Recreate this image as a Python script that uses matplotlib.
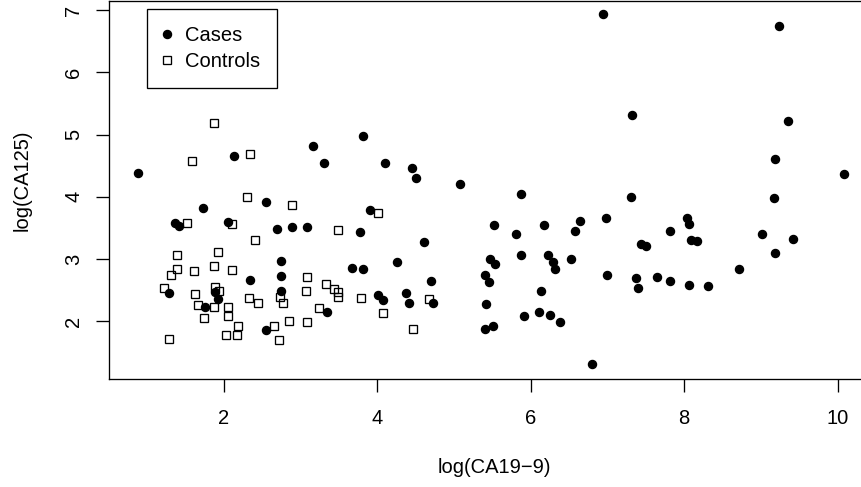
import matplotlib
matplotlib.use("Agg")
import matplotlib.pyplot as plt

plt.rcParams['font.family'] = ['Liberation Sans', 'DejaVu Sans']

# log(CA19-9), log(CA125)
cases_x = [0.88, 2.13, 2.55, 1.73, 1.36, 1.41, 2.05, 2.69, 2.89, 2.74, 2.34, 2.75,
           1.28, 1.89, 1.93, 2.75, 1.76, 2.55,
           3.16, 3.82, 3.31, 4.10, 4.45, 4.50, 5.08, 3.91, 3.08, 3.77, 4.61, 4.26,
           3.67, 3.82, 4.70, 4.01, 4.07, 4.37, 4.42, 4.73, 3.35,
           5.88, 7.31, 5.52, 6.17, 5.81, 6.64, 6.58, 6.98, 7.82, 7.44, 7.50, 5.47,
           5.54, 5.88, 6.23, 6.29, 6.32, 6.52, 5.40, 5.46, 6.99, 7.37, 7.40, 7.65,
           7.81, 6.14, 5.42, 5.91, 6.11, 6.25, 6.38, 5.41, 5.51, 6.80,
           6.94, 9.24, 7.32, 9.36, 9.19, 10.08, 9.17, 8.04, 8.06, 8.09, 8.17, 9.01,
           9.42, 9.19, 8.07, 8.31, 8.72]
cases_y = [4.38, 4.65, 3.91, 3.82, 3.58, 3.54, 3.60, 3.48, 3.52, 2.97, 2.67, 2.73,
           2.46, 2.48, 2.36, 2.49, 2.23, 1.87,
           4.82, 4.97, 4.54, 4.55, 4.46, 4.30, 4.20, 3.79, 3.51, 3.43, 3.28, 2.96,
           2.86, 2.85, 2.65, 2.43, 2.35, 2.45, 2.29, 2.29, 2.15,
           4.05, 3.99, 3.55, 3.55, 3.41, 3.61, 3.45, 3.66, 3.46, 3.25, 3.21, 3.00,
           2.92, 3.06, 3.06, 2.96, 2.84, 3.00, 2.74, 2.64, 2.74, 2.70, 2.53, 2.71,
           2.65, 2.49, 2.28, 2.09, 2.16, 2.11, 1.99, 1.88, 1.93, 1.31,
           6.94, 6.74, 5.31, 5.22, 4.60, 4.36, 3.98, 3.66, 3.56, 3.31, 3.29, 3.40,
           3.32, 3.10, 2.58, 2.57, 2.85]

controls_x = [1.87, 1.59, 2.34, 2.30, 2.89, 1.52, 2.11, 2.40, 1.39, 1.93, 1.39, 1.31,
              1.61, 1.87, 2.10, 1.22, 1.89, 1.94, 1.63, 1.66, 1.87, 2.06, 2.06, 1.74,
              2.33, 2.44, 2.73, 2.77, 2.19, 2.03, 2.17, 2.66, 2.85, 2.72, 1.29,
              4.01, 3.49, 3.08, 3.07, 3.33, 3.44, 3.49, 3.49, 3.79, 4.68, 3.24, 3.09,
              4.08, 4.47]
controls_y = [5.19, 4.57, 4.69, 4.00, 3.87, 3.58, 3.57, 3.30, 3.06, 3.12, 2.85, 2.75,
              2.81, 2.89, 2.82, 2.54, 2.55, 2.49, 2.44, 2.26, 2.23, 2.24, 2.08, 2.06,
              2.37, 2.29, 2.40, 2.29, 1.93, 1.78, 1.78, 1.92, 2.00, 1.70, 1.72,
              3.74, 3.47, 2.71, 2.49, 2.60, 2.52, 2.47, 2.40, 2.37, 2.36, 2.21, 1.99,
              2.14, 1.88]

xticks = [2, 4, 6, 8, 10]
yticks = [2, 3, 4, 5, 6, 7]

fig = plt.figure(figsize=(8.61, 4.87), dpi=100)
ax = fig.add_axes([0.127, 0.2218, 0.8858, 0.7762])

ax.plot(cases_x, cases_y, linestyle='none', marker='o', ms=5.8,
        color='black', label='Cases')
ax.plot(controls_x, controls_y, linestyle='none', marker='s', ms=5.3,
        mfc='none', mec='black', mew=0.95, label='Controls')

ax.set_xlim(0.507, 10.45)
ax.set_ylim(1.077, 7.144)
ax.set_xticks(xticks)
ax.set_yticks(yticks)
ax.tick_params(axis='both', direction='out', length=9.4, width=0.95,
               labelsize=14.5, color='black')
ax.tick_params(axis='x', pad=12)
ax.tick_params(axis='y', pad=9.5, labelrotation=90)
for lab in ax.get_yticklabels():
    lab.set_va('center')

for sp in ax.spines.values():
    sp.set_linewidth(0.95)
    sp.set_color('black')

ax.set_xlabel('log(CA19\u22129)', fontsize=14.5, va='center')
ax.set_ylabel('log(CA125)', fontsize=14.5, va='center')
ax.xaxis.set_label_coords(0.5044, -0.2354)
ax.yaxis.set_label_coords(-0.1138, 0.5265)

leg = ax.legend(loc='upper left', bbox_to_anchor=(0.0491, 0.9788),
                borderaxespad=0, fontsize=14.5, frameon=True, fancybox=False,
                edgecolor='black', framealpha=1, borderpad=0.85,
                handlelength=0.3, handletextpad=0.73, labelspacing=0.36,
                numpoints=1)
leg.get_frame().set_linewidth(0.95)

fig.savefig('out.png', dpi=100)
